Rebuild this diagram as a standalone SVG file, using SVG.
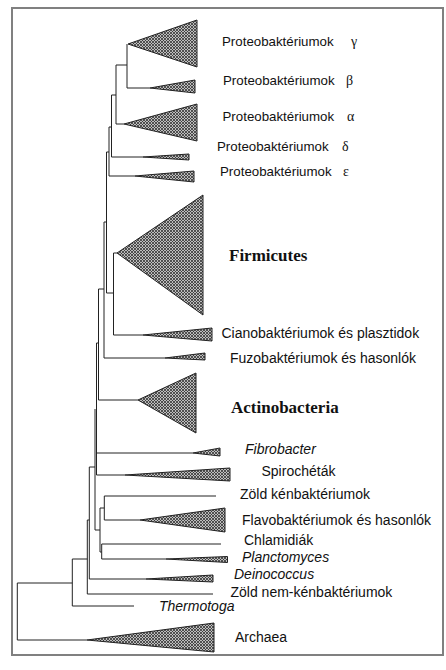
<svg xmlns="http://www.w3.org/2000/svg" width="446" height="670" viewBox="0 0 446 670">
<style>
.e{stroke:#222;stroke-width:1;fill:none}
.t{fill:url(#hatch);stroke:#222;stroke-width:1}
.l{font-family:"Liberation Sans",Arial,sans-serif;font-size:14px;fill:#111}
.p{font-size:13.3px}
.i{font-style:italic}
.s{font-family:"Liberation Serif","Times New Roman",serif;font-size:17px;font-weight:bold;fill:#111}
.g{font-family:"Liberation Serif","Times New Roman",serif;font-size:14px;fill:#111}
</style>
<defs>
<pattern id="hatch" width="3" height="3" patternUnits="userSpaceOnUse">
<rect width="3" height="3" fill="#bdbdbd"/>
<path d="M0,0L3,3M3,0L0,3" stroke="#333" stroke-width="0.8"/>
</pattern>
</defs>
<rect x="12" y="8" width="431" height="647" fill="#fff" stroke="#808080" stroke-width="2"/>
<g id="connectors">
<path class="e" d="M127,44V88M127,88H150"/>
<path class="e" d="M116,65V124M116,65H127M116,124H124"/>
<path class="e" d="M111.5,95V157M111.5,95H116M111.5,157H143"/>
<path class="e" d="M109,127V176M109,127H111.5M109,176H135"/>
<path class="e" d="M106.5,152V293M106.5,152H109M106.5,293H113.5"/>
<path class="e" d="M113.5,253V335M113.5,253H117M113.5,335H143"/>
<path class="e" d="M104,222V358M104,222H106.5M104,358H165"/>
<path class="e" d="M98.5,289V400M98.5,289H104M98.5,400H138"/>
<path class="e" d="M96.5,343V475M96.5,343H98.5M96.5,453H193M96.5,475H125"/>
<path class="e" d="M95,409V530M95,530H100"/>
<path class="e" d="M100,508V552M100,508H104.3M100,552H101.7"/>
<path class="e" d="M104.3,496V520M104.3,496H216M104.3,520H140"/>
<path class="e" d="M101.7,544V559M101.7,544H221M101.7,559H166"/>
<path class="e" d="M89.3,467V579M89.3,467H95M89.3,579H146"/>
<path class="e" d="M87.3,520V594M87.3,520H89.3M87.3,594H213"/>
<path class="e" d="M72.3,559V606M72.3,559H87.3M72.3,606H134"/>
<path class="e" d="M17.3,583V640M17.3,583H72.3M17.3,640H87"/>
</g>
<g id="n-gamma"><polygon class="t" points="128,44 197,20 197,67"/><text class="l p" x="222" y="46">Proteobaktériumok</text><text class="g" x="351" y="46">γ</text></g>
<g id="n-beta"><polygon class="t" points="150,88 195,80 195,93"/><text class="l p" x="223" y="85">Proteobaktériumok</text><text class="g" x="346" y="85">β</text></g>
<g id="n-alpha"><polygon class="t" points="124,124 197,104 197,141"/><text class="l p" x="222.5" y="121">Proteobaktériumok</text><text class="g" x="347" y="121">α</text></g>
<g id="n-delta"><polygon class="t" points="143,157 189,154 189,160"/><text class="l p" x="217" y="151">Proteobaktériumok</text><text class="g" x="342" y="151">δ</text></g>
<g id="n-epsilon"><polygon class="t" points="135,176 194,171 194,182"/><text class="l p" x="220" y="176">Proteobaktériumok</text><text class="g" x="343" y="176">ε</text></g>
<g id="n-firmicutes"><polygon class="t" points="117,253 203,195 203,315"/><text class="s" x="229" y="260.5">Firmicutes</text></g>
<g id="n-cyano"><polygon class="t" points="143,335 212,328 212,341"/><text class="l" x="221.5" y="337.5">Cianobaktériumok és plasztidok</text></g>
<g id="n-fuzo"><polygon class="t" points="165,358 205,353 205,360"/><text class="l" x="230" y="363">Fuzobaktériumok és hasonlók</text></g>
<g id="n-actino"><polygon class="t" points="138,400 196,373 196,433"/><text class="s" x="231" y="413">Actinobacteria</text></g>
<g id="n-fibro"><polygon class="t" points="193,453 220,448 220,456"/><text class="l i" x="245" y="454">Fibrobacter</text></g>
<g id="n-spiro"><polygon class="t" points="125,475 230,468 230,481"/><text class="l" x="261.5" y="476">Spirochéták</text></g>
<g id="n-zoldken"><text class="l" x="240" y="499">Zöld kénbaktériumok</text></g>
<g id="n-flavo"><polygon class="t" points="140,520 225,508 225,532"/><text class="l" x="242" y="525">Flavobaktériumok és hasonlók</text></g>
<g id="n-chlam"><text class="l" x="244" y="545">Chlamidiák</text></g>
<g id="n-planc"><polygon class="t" points="166,559 227.5,556.5 227.5,562.5"/><text class="l i" x="242" y="562">Planctomyces</text></g>
<g id="n-deino"><polygon class="t" points="146,579 213,575 213,582"/><text class="l i" x="234" y="579">Deinococcus</text></g>
<g id="n-zoldnem"><text class="l" x="230.5" y="596.5">Zöld nem-kénbaktériumok</text></g>
<g id="n-thermo"><text class="l i" x="159" y="610.5">Thermotoga</text></g>
<g id="n-archaea"><polygon class="t" points="87,640 214,623 214,652"/><text class="l" x="235" y="641.5">Archaea</text></g>
</svg>
